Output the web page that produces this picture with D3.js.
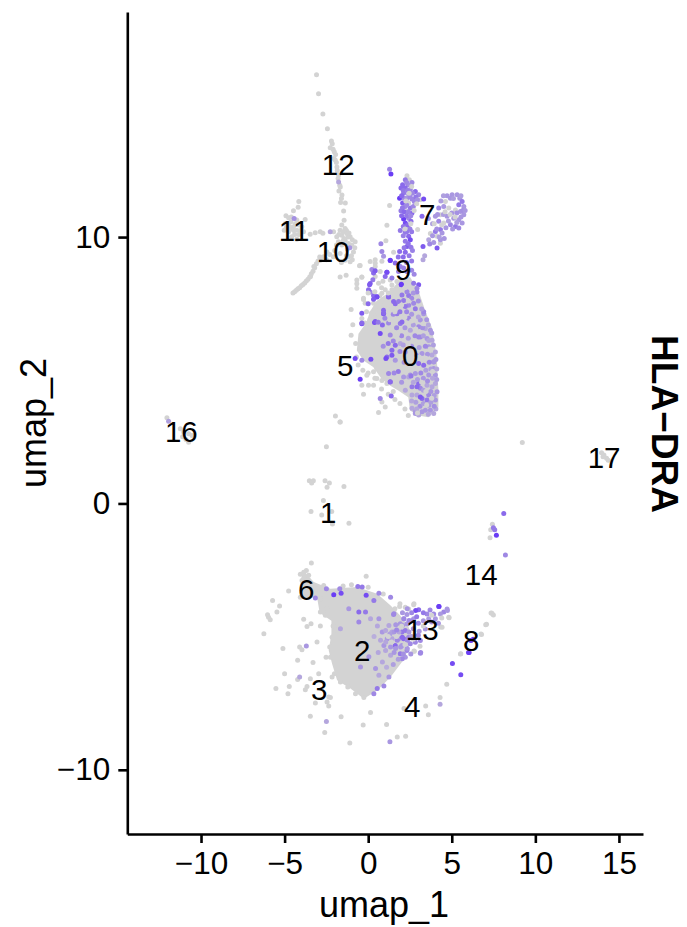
<!DOCTYPE html>
<html>
<head>
<meta charset="utf-8">
<script src="https://cdn.jsdelivr.net/npm/d3@7"></script>
<style>
  body { margin: 0; background: #fff; }
  text { font-family: "Liberation Sans", Arial, sans-serif; fill: #000; }
</style>
</head>
<body>
<svg id="chart"></svg>
<script>
const width = 687;
const height = 927;

const xTicks = [-10, -5, 0, 5, 10, 15];
const yTicks = [-10, 0, 10];
const featureName = "HLA\u2212DRA";

const clusterIds = ["0","1","2","3","4","5","6","7","8","9","10","11","12","13","14","16","17"];
const clusterX = [2.51,-2.39,-0.36,-2.93,2.63,-1.38,-3.71,3.53,6.16,2.09,-2.09,-4.43,-1.79,3.23,6.76,-11.18,14.11];
const clusterY = [5.56,-0.34,-5.53,-6.99,-7.63,5.19,-3.23,10.86,-5.15,8.8,9.47,10.26,12.74,-4.74,-2.67,2.71,1.73];

// the two overplotted masses, too dense to read single cells: outline only
const coreTop = [[1.9,8.4],[2.5,8.5],[3.0,8.0],[3.4,7.25],[3.8,6.62],[4.1,5.5],[4.2,4.24],[4.2,3.61],[3.6,3.24],[3.0,3.3],[2.5,3.49],[2.4,3.99],[1.8,4.24],[1.3,4.43],[0.8,4.68],[0.3,5.12],[-0.28,5.37],[-0.68,5.74],[-0.58,6.37],[-0.1,6.8],[0.1,7.2],[0.5,7.6],[1.3,7.95]];
const coreBottom = [[-3.86,-2.52],[-3.26,-2.95],[-2.26,-3.2],[-0.66,-3.14],[0.54,-3.39],[1.34,-3.83],[1.9,-4.2],[2.4,-4.6],[2.6,-5.0],[2.2,-5.8],[1.94,-6.02],[1.34,-6.52],[0.54,-7.02],[-0.26,-7.33],[-1.06,-6.95],[-1.86,-6.64],[-2.16,-6.02],[-2.36,-5.52],[-2.2,-4.89],[-2.2,-4.4],[-2.9,-4.1],[-3.06,-3.52],[-3.96,-3.58],[-4.06,-2.89]];

// cells with no expression
const greyStrand = [[-3.09,16.09],[-2.97,15.38],[-2.71,14.62],[-2.44,14.07],[-2.2,13.61],[-2.27,13.35],[-2.03,13.2],[-1.97,12.89],[-1.87,12.63],[-1.77,12.33],[-1.67,11.88],[-1.75,11.73],[-1.57,11.58],[-1.65,11.3],[-1.37,11.28],[-1.47,10.98],
  [-2.15,13.5],[-2.1,13.3],[-1.95,13.1],[-2.05,12.95],[-1.9,12.8],[-1.85,12.5],[-1.8,12.2],[-1.7,11.95],[-1.6,11.45],
  [-4.5,7.9],[-4.4,7.95],[-4.3,8.0],[-4.2,8.06],[-4.1,8.1],[-4.0,8.17],[-3.9,8.22],[-3.8,8.28],[-3.7,8.35],[-3.6,8.42],[-3.5,8.5],[-3.4,8.62],[-3.3,8.72],[-3.2,8.85],[-3.1,9.0],[-3.0,9.1],[-2.9,9.25],[-3.25,8.9],[-3.45,8.52],
  [-4.15,11.34],[-4.19,11.12],[-4.47,10.99],[-4.92,10.8],[-4.76,10.73],[-4.62,10.58],[-4.96,10.51],[-4.27,10.64],[-3.77,10.66],[-5.02,10.26],[-4.76,10.2],[-4.47,10.39],[-4.27,10.26],[-3.97,10.39],[-4.57,10.01],[-4.27,9.92],[-3.87,10.2],[-3.47,10.11],[-3.17,10.16],[-2.87,10.2],[-2.71,10.14],[-2.07,10.2],[-4.6,10.3],[-4.4,10.1],
  [-4.8,10.5],[-4.6,10.75],[-4.35,10.5],[-4.15,10.45],[-4.7,10.4],[-4.9,10.35],[-4.15,10.1],[-4.45,10.25],[-4.05,10.25],
  [-1.44,10.63],[-1.58,10.45],[-1.38,10.32],[-1.68,10.26],[-1.28,10.13],[-1.58,10.07],[-1.08,10.01],[-1.88,10.01],[-1.38,9.88],[-0.78,9.82],[-0.98,9.7],[-1.58,9.7],[-1.78,9.82],[-1.18,9.76],[-0.88,9.44],[-1.18,9.26],[-1.08,9.07],[-1.38,9.13],[-1.68,9.38],[-2.08,9.26],[-2.67,9.26],[-2.47,9.44],[-2.87,9.13],[-0.52,8.92],[-1.32,8.57],[-1.68,8.5],[-1.2,10.0],[-1.45,9.95],[-1.25,9.55],[-1.0,9.3],
  [-1.5,10.2],[-1.3,10.25],[-1.15,10.15],[-0.95,9.9],[-1.75,10.1],[-1.5,9.85],[-1.9,9.7],[-2.3,9.35],[-2.0,9.5],[-0.8,9.6],[-0.95,9.15],[-1.6,9.05],[-1.3,9.3],[-2.5,9.15]];
const greyUpper = [[1.28,11.19],[2.42,11.28],[2.32,12.3],[2.46,12.15],[3.12,11.4],[2.32,10.96],[1.12,10.44],[2.42,10.34],[2.96,10.28],[1.06,9.86],[1.52,9.43],[0.42,9.15],[0.82,9.09],[-0.48,8.93],[0.42,8.9],[0.72,8.71],[-0.38,8.5],[-0.68,8.25],[0.88,8.34],
  [4.62,11.34],[4.82,11.09],[5.22,11.02],[4.32,10.84],[4.52,10.53],[3.72,10.13],[4.12,10.03],[4.32,9.77],
  [0.12,9.08],[0.42,9.02],[-0.38,8.49],[-0.68,8.39],[0.42,8.52],[1.32,8.39],[1.02,8.02],[0.62,8.27],[0.32,7.52],[0.82,7.89],[1.42,8.02],[-0.68,8.08],[-0.18,7.52],[-0.28,7.7],[0.92,7.45],[-0.18,6.77],[0.62,7.39],[1.72,8.33],[1.42,8.2],
  [-1.02,7.28],[-0.92,6.71],[-1.02,6.31],[-0.28,7.66],[-0.38,6.94],[-1.68,3.06],[-0.32,5.0],[-0.08,4.81],[0.32,4.44],[0.02,4.44],[-0.38,4.44],[-0.28,4.1],[0.82,3.81],[1.02,3.62],[0.62,3.41],[0.52,4.69],[0.82,4.62],[1.12,4.5],[0.32,4.94],[0.52,5.06],
  [-0.6,5.2],[-0.7,5.5],[-0.75,6.0],[0,4.9],[0.4,4.7],[0.8,4.3],[1.2,4.1],[1.6,3.9],[1.9,3.75],[2.2,3.55],[2.4,3.3],[0.9,7.6],[0.7,7.8],[-0.1,6.6],[1.5,4.2]];
const greyMiddle = [[-12.04,3.22],[-11.24,2.8],[-11.04,2.68],[-10.74,2.62],[-10.74,2.3],[-10.54,2.55],[-11.1,2.5],[-10.9,2.4],
  [-1.96,3.28],[-1.68,3.06],[-2.5,2.13],[-3.52,0.85],[-3.28,0.85],[-3.38,0.77],[-2.58,0.85],[-2.32,0.77],[-2.46,0.61],[-1.45,0.64],[-2.68,0.11],[-3.42,-0.3],[-2.78,-0.43],[-2.18,-0.3],[-2.14,-0.77],[-1.15,-0.74],
  [9.22,2.29],[13.96,1.9],[14.1,1.82],[14.26,1.7],[14.36,1.62],[14.05,1.75],[7.43,-0.78],[7.33,-0.99],[7.29,-1.29]];
const greyLower = [[-3.4,-2.24],[-0.12,-2.73],[-4.06,-2.66],[-3.7,-2.52],[-4.76,-3.29],[-5.72,-3.64],[-5.3,-3.85],[-5.46,-4.08],[-6.02,-4.18],[-5.86,-4.37],[-5.96,-4.27],[-6.24,-4.89],[-3.86,-4.35],[-2.86,-4.6],[-3.42,-4.52],[-3.66,-4.62],[-3.06,-5.2],[-5.1,-5.45],[-4.1,-5.39],[-3.96,-5.49],[-4.22,-5.89],[-3.3,-5.97],[-2.52,-5.77],[-5,-6.39],[-4.22,-6.61],[-2.96,-6.39],[-3.46,-6.58],[-2.16,-6.52],[-5.52,-6.95],[-4.72,-6.87],[-4.8,-7.14],[-3.76,-6.99],[-3.66,-6.87],[-3.16,-7.49],[-2.36,-7.27],[-2.26,-7.29],[-2.46,-7.45],[-2.36,-7.6],[-3.46,-7.99],[-1.62,-8.01],[-2.6,-8.6],[0.14,-7.85],[-0.3,-8.32],[1.1,-8.3],[-1.1,-8.99],[1.74,-8.77],[2.24,-8.74],[2.14,-7.7],[3.44,-7.6],[3.6,-7.93],[4.3,-7.29],[4.7,-6.79],[5.54,-5.64],[6.78,-4.92],[7.08,-4.54],[7.4,-4.12],[7.35,-4.11],[7.49,-4.19],[7.03,-4.55],[6.75,-4.9],[5.52,-5.65],[4.34,-4.64],[4.84,-4.29],[3.1,-5.36],[2.74,-5.54],[2.74,-3.77],[1.9,-3.77],[4.82,-4.27],[4.42,-4.65],[2.42,-3.96],[2.22,-3.9],[2.72,-3.8],[1.88,-3.87],[1.62,-4.71],[1.52,-5.15],[2.76,-5.55],
  [-3.86,-2.58],[-3.56,-2.7],[-3.96,-2.89],[-3.46,-3.01],[-3.16,-3.2],[-2.66,-3.08],[-4.06,-3.52],[-3.06,-3.39],[-2.86,-3.58],
  [-2.16,-5.02],[-2.3,-5.39],[-2.26,-5.77],[-2.02,-6.39],[-1.66,-6.7],[-1.22,-6.89],[-0.76,-7.14],[-0.26,-7.29],[0.24,-7.08],[-2.86,-4.08],[-2.56,-4.2],[-2.46,-3.95],
  [-2.1,-4.6],[-2.0,-4.75],[-1.5,-3.1],[-1.0,-3.05],[0.0,-3.15],[0.9,-3.4],[1.6,-3.95]];

// cells expressing the gene: x, y, expression level (0 to 1)
const exprUpper = [[-1.77,12.07,0.3],[-4.43,10.7,0.45],[-2.27,10.2,0.3],[-1.1,9.6,0.4],[1.28,12.55,0.5],[1.36,12.37,1],
  [2.22,12.15,0.6],[2.06,11.96,0.7],[2.62,12.05,0.5],[2.38,11.96,0.5],[2.22,11.84,0.7],[1.96,11.84,0.7],[2.52,11.78,0.5],[2.82,11.71,0.7],[2.12,11.65,0.6],[2.42,11.59,0.4],[3.02,11.59,0.5],[1.88,11.46,1],[2.16,11.46,0.5],[2.62,11.43,0.5],[3.32,11.43,0.9],[2.06,11.28,0.8],[2.76,11.34,0.5],[2.22,11.15,0.5],[2.52,11.09,0.6],[1.96,10.99,0.6],[2.62,10.9,0.7],[2.12,10.68,1],[2.42,10.71,0.5],[2.22,10.53,0.9],[2.56,10.59,0.7],[1.92,10.25,0.6],[2.22,10.18,0.6],[2.42,10.03,0.7],[2.22,9.84,0.6],[2.52,9.9,0.9],[0.76,9.75,0.5],[2.32,9.65,0.8],[2.56,9.62,0.6],[0.82,9.46,0.5],[1.88,9.46,0.7],[2.22,9.43,0.7],[0.92,9.28,0.4],[1.32,9.13,1],[1.62,9.03,0.7],[1.92,8.9,0.55],[2.12,8.84,0.55],[1.82,8.71,0.6],[2.32,8.71,0.55],[0.22,8.78,0.5],[1.12,8.68,0.9],[0.32,8.65,0.7],[1.02,8.52,0.7],[0.28,8.4,0.6],[1.42,8.46,0.6],[0.08,8.21,0.8],[1.98,8.21,1],[3.02,8.21,0.8],
  [2.3,12.05,0.5],[2.5,11.95,0.45],[2.1,11.75,0.6],[2.35,11.75,0.55],[2.65,11.65,0.5],[2.0,11.55,0.7],[2.3,11.45,0.4],[2.5,11.5,0.5],[2.85,11.5,0.6],[2.95,11.4,0.45],[2.3,11.2,0.5],[2.05,11.1,0.6],[2.15,10.95,0.7],[2.4,10.95,0.55],[2.7,11.15,0.5],[2.0,10.8,0.7],[2.3,10.8,0.6],[2.55,10.8,0.5],[2.35,10.45,0.7],[2.1,10.4,0.6],[2.5,10.3,0.55],[2.3,10.2,0.6],[2.6,10.2,0.6],[2.1,10.05,0.55],[2.4,9.75,0.65],[2.15,9.6,0.6],[2.65,9.5,0.55],[2.45,9.3,0.6],[2.1,9.25,0.7],[2.6,9.1,0.6],[1.8,9.25,0.65],[2.3,9.05,0.6],[2.6,8.75,0.5],[2.75,8.6,0.5],
  [3.22,10.78,0.7],[4.22,11.09,0.5],[4.72,11.55,0.4],[5.02,11.59,0.4],[5.32,11.59,0.4],[4.92,11.46,0.4],[5.48,11.46,0.4],[5.62,11.34,0.6],[5.42,11.21,0.6],[5.72,11.15,0.4],[4.52,11.15,0.4],[5.52,10.96,0.4],[5.72,10.84,0.4],[4.02,10.78,0.4],[4.72,10.78,0.4],[5.12,10.71,0.4],[5.42,10.65,0.4],[5.62,10.53,0.4],[4.22,10.59,0.5],[4.92,10.46,0.5],[5.22,10.4,0.6],[5.42,10.34,0.5],[4.32,10.28,0.6],[4.02,10.21,0.6],[4.42,10.15,0.4],[3.62,9.9,0.3],[4.32,9.9,0.4],[3.92,9.8,0.4],[3.68,9.74,0.5],[3.28,9.65,0.8],[4.12,9.59,0.8],[3.38,9.3,0.3],[3.28,9.15,0.3],
  [3.6,10.7,0.4],[3.85,10.5,0.35],[4.15,10.85,0.4],[4.5,10.85,0.35],[4.35,11.35,0.35],[4.65,10.35,0.4],[3.85,10.05,0.4],[4.1,10.3,0.45],[4.25,10.0,0.35],[4.55,9.95,0.4],[5.0,10.9,0.4],[5.3,10.9,0.45],[4.8,10.6,0.35],[5.05,10.3,0.4],[5.3,10.55,0.35],[5.55,10.75,0.4],[5.65,11.0,0.45],[5.1,11.45,0.35],[5.55,11.55,0.35],[4.5,11.55,0.35],[5.8,11.0,0.4]];
const exprTop = [[1.32,6.32,0.5],[1.92,6.76,0.6],[3.12,6.25,0.5],[3.52,6.19,0.4],[3.62,5.88,0.4],[3.42,5.9,0.5],[3.92,5.32,0.4],[3.82,5.57,0.3],[1.12,5.5,0.7],[1.42,5.75,0.7],[1.62,5.38,0.4],[3.02,5.25,0.7],[3.32,5.19,0.7],[3.22,5.63,0.4],[2.52,4.82,0.4],[2.82,4.88,0.4],[3.02,4.5,0.7],[2.62,4.38,0.6],[2.22,4.25,0.3],[3.62,4.82,0.4],[4.02,4.82,0.4],[3.92,5.07,0.4],[3.12,4.32,0.5],[3.22,3.94,0.7],[3.62,4.07,0.5],[3.52,3.88,0.6],[4.02,4.5,0.3],[4.12,4.19,0.4],[4.02,3.88,0.4],[2.62,3.57,0.3],[2.82,3.38,0.4],[3.42,3.5,0.4],[3.72,3.5,0.4],[3.92,3.38,0.3],[3.02,3.32,0.3],[1.38,4.03,0.7],[1.32,4.57,0.7],[1.22,4.88,0.5],[2.62,4.07,0.3],[2.92,4.07,0.3],[3.82,4.38,0.3],[3.52,4.44,0.3],[2.42,4.75,0.3],[2.22,5.69,0.4],[1.92,6.0,0.3],[2.52,6.5,0.3],[3.02,6.63,0.5],[3.42,6.57,0.3],[3.82,6.13,0.3],[4.02,5.69,0.3],
  [0.52,7.75,1],[0.92,7.12,0.9],[0.32,7.81,0.7],[0.12,7.94,0.5],[0,7.5,0.7],[1.22,7.75,0.8],[1.62,7.5,0.7],[2.12,7.62,0.6],[2.42,7.81,0.6],[2.92,7.94,0.5],[2.02,6.81,0.7],[2.82,7.31,0.6],[2.42,7.44,0.5],[3.32,7.12,0.4],[-0.38,6.75,0.9],[0.38,6.79,0.9],[0.72,6.38,0.9],[0.92,7.25,0.7],[-0.78,5.44,0.9],[0.16,5.41,0.9],[1.06,5.44,0.9],[-0.48,4.66,1],[0.72,3.94,0.5],[-0.38,5.38,0.5],[1.62,5.94,0.7],[1.42,5.56,0.8],[1.32,4.56,0.7],[3.02,6.25,0.5],[3.72,6.5,0.4],[3.62,6.12,0.3],[2.56,4.78,0.6],[2.12,4.75,0.4],[2.92,4.38,0.7],[3.12,4.0,0.8],[3.92,5.31,0.4],[2.82,3.44,0.4],[3.22,3.44,0.4],[3.62,3.69,0.4],
  [1.32,9.12,1],[0.42,8.74,0.8],[1.12,8.68,0.9],[0.12,8.26,0.8],[0.02,8.02,0.7],[0.52,7.76,0.9],[0.32,7.67,0.8],[-0.38,7.14,0.8],[-0.38,6.77,0.7],[0.42,6.83,0.8],[1.22,7.77,0.7],[1.52,7.58,0.7],[1.82,7.58,0.6],[2.02,7.83,0.6],[1.98,8.23,1],[2.72,8.27,0.6],[2.92,8.08,0.5],[2.32,7.95,0.5],[2.72,7.52,0.5],[2.22,7.39,0.6],[3.32,7.2,0.5],[1.72,7.12,0.6],[0.92,7.14,0.7],[1.22,6.77,0.5],[2.42,6.95,0.5],[3.12,6.89,0.4],
  [2.7,7.9,0.4],[3.0,7.6,0.45],[3.2,7.3,0.35],[2.6,7.1,0.4],[3.0,7.0,0.3],[3.5,6.9,0.4],[2.2,6.6,0.4],[2.7,6.7,0.35],[3.25,6.6,0.45],[3.6,6.7,0.3],[2.0,6.3,0.5],[2.4,6.2,0.35],[2.8,6.3,0.5],[3.3,6.3,0.35],[3.8,6.4,0.4],[2.1,5.95,0.35],[2.6,5.9,0.45],[3.05,5.85,0.35],[3.9,5.95,0.35],[3.55,5.6,0.4],[2.9,5.55,0.4],[4.05,5.4,0.4],[3.65,5.3,0.5],[3.45,5.0,0.35],[3.75,5.05,0.35],[3.15,4.9,0.5],[4.1,5.05,0.3],[3.3,4.7,0.4],[3.85,4.7,0.3],[2.95,4.65,0.35],[3.55,4.6,0.45],[4.1,4.65,0.35],[2.7,4.55,0.3],[3.3,4.25,0.35],[3.75,4.2,0.4],[3.95,4.05,0.35],[2.85,3.8,0.35],[3.1,3.65,0.45],[3.75,3.8,0.35],[4.05,3.55,0.3],[3.3,3.75,0.35],[2.6,3.85,0.3],[3.6,3.35,0.3],[2.9,3.55,0.3],[3.95,3.65,0.45],[1.7,6.6,0.5],[1.5,6.1,0.5],[1.2,6.0,0.6],[0.9,5.9,0.45],[1.9,5.7,0.5],[2.15,5.3,0.45],[1.8,4.95,0.6],[1.55,4.9,0.5],[2.0,4.55,0.4],[0.85,6.7,0.7],[0.6,6.8,0.6],[1.0,6.95,0.5],[1.5,7.1,0.5],[1.9,7.2,0.6],[2.3,7.2,0.5],[2.6,7.7,0.5]];
const exprLower = [[-11.94,3.09,0.35],[8.11,-0.38,0.7],[7.49,-0.91,0.6],[7.57,-0.99,0.6],[7.67,-1.19,1],[8.21,-1.94,0.5],[6.15,-5.15,1],[6.28,-5.1,1],[6.0,-5.6,0.9],[5.04,-6.01,0.9],[5.54,-6.43,0.9],
  [4.22,-3.87,0.8],[4.72,-3.96,0.4],[4.52,-4.08,0.5],[4.32,-4.15,0.4],[3.92,-4.15,0.5],[3.52,-4.15,0.5],[3.02,-3.99,0.7],[2.32,-4.17,0.4],[1.52,-4.17,0.5],[2.72,-4.33,0.4],[2.12,-4.33,0.3],[3.62,-4.33,0.4],[4.02,-4.33,0.4],[1.92,-4.52,0.4],[2.32,-4.52,0.4],[1.42,-4.83,0.3],[2.02,-4.83,0.6],[2.22,-4.77,0.6],[3.42,-4.71,0.4],[2.42,-5.02,0.5],[2.12,-5.08,0.7],[1.82,-5.08,0.4],[1.62,-5.33,0.7],[2.02,-5.33,0.4],[2.52,-5.27,0.5],[2.82,-5.21,0.5],[3.12,-5.15,0.5],[1.92,-5.64,0.6],[2.32,-5.52,0.5],[2.22,-5.77,0.4],[3.12,-5.62,0.5],
  [0.84,-4.83,0.4],[1.14,-5.08,0.4],[0.94,-5.33,0.4],[1.34,-5.39,0.4],[1.74,-5.14,0.5],[2.04,-5.02,0.7],[2.34,-5.14,0.5],[1.54,-4.83,0.4],[2.04,-4.58,0.5],[2.44,-4.39,0.5],[2.84,-4.02,0.9],[2.34,-3.95,0.4],[1.24,-4.58,0.3],[0.64,-4.33,0.4],[0.14,-4.33,0.3],[-0.16,-4.08,0.6],[-0.56,-4.08,0.7],[-0.56,-4.45,0.5],[0.34,-3.64,0.6],[-0.12,-3.45,0.9],[-0.62,-3.12,0.6],[-0.36,-3.14,0.6],[1.34,-3.52,0.5],[0.64,-3.37,0.5],[-1.7,-3.2,0.5],[-1.62,-3.37,0.9],[-2.06,-3.43,1],[-2.5,-3.2,0.5],[-3.16,-3.55,0.5],[-1.16,-3.95,0.4],[0.54,-6.95,0.6],[0.94,-6.85,0.5],[0.34,-7.14,0.5],[0.44,-6.2,0.4],[0.64,-6.45,0.3],[1.24,-6.52,0.4],[-0.46,-6.14,0.4],[0.04,-5.76,0.4],[-1.66,-4.7,0.3],[3.14,-5.6,0.5],[2.04,-5.83,0.5],[1.54,-4.14,0.5],
  [1.04,-4.77,0.3],[1.44,-5.08,0.3],[1.84,-4.83,0.3],[2.14,-4.33,0.5],[1.04,-5.52,0.3],[0.74,-5.14,0.3],[2.44,-4.83,0.4],[1.64,-5.45,0.4],[1.94,-5.39,0.4],[1.34,-5.7,0.3],[2.34,-5.45,0.4],
  [-3.7,-5.35,0.4],[-4.1,-6.52,0.3],[-2.5,-8.19,0.3],[1.3,-8.95,0.4],[4.3,-7.54,0.3],[6.04,-5.6,1],[4.24,-3.87,1],[4.74,-4.02,0.4],
  [2.6,-4.4,0.5],[3.0,-4.5,0.5],[3.3,-4.4,0.4],[3.8,-4.45,0.45],[4.2,-4.5,0.4],[2.7,-4.7,0.45],[3.05,-4.8,0.4],[2.6,-5.0,0.35],[3.0,-4.95,0.5],[1.65,-4.55,0.4],[1.3,-4.9,0.35],[1.7,-4.75,0.5],[1.05,-5.2,0.3],[1.55,-5.6,0.4],[1.8,-5.85,0.35],[2.1,-5.65,0.45],[2.55,-5.65,0.4],[0.55,-4.6,0.3],[0.35,-5.0,0.25],[0.6,-5.6,0.3],[0.85,-5.95,0.3],[1.1,-6.15,0.25],[1.5,-6.05,0.35],[2.9,-4.25,0.6],[3.3,-4.1,0.6],[3.7,-4.0,0.5],[2.6,-4.1,0.5],[2.05,-4.1,0.4]];

// grey cells that sit over the coloured ones in the plotting order
const greyOver = [[2.4,7.6],[2.0,7.45],[1.6,7.2],[1.2,7.3],[1.3,6.9],[0.6,7.1],[0.2,7.15],[-0.1,7.2],[0.1,6.9],[2.2,7.0],[2.6,6.85],[2.85,6.55],[3.3,6.75],[3.1,6.05],[2.4,5.95],[1.75,6.35],[3.45,5.45],[3.7,5.8],[2.7,5.1],[3.2,4.55],[3.45,4.2],[3.8,3.95],[2.95,3.4],[3.5,3.7],[3.85,4.95],[3.05,5.5],[1.2,7.9],[1.6,8.0],[2.2,8.1],[0.8,8.1],[0.4,7.95],[0.0,7.9],
  [2.0,-4.6],[1.4,-5.2],[2.7,-5.1],[1.2,-5.0],[3.3,-4.6],[3.8,-4.2],[4.4,-4.3],[2.2,-5.3],[1.7,-5.0],
  [2.6,11.9],[2.45,11.65],[2.25,11.35],[2.9,11.25],[2.75,11.0],[2.55,10.5],[2.2,10.3],[4.6,10.95],[4.9,10.85],[5.2,10.75],[4.4,10.45],[3.95,10.5]];

const svg = d3.select("#chart").attr("width", width).attr("height", height);

const x = d3.scaleLinear().domain([-14.41, 16.44]).range([127.3, 643]);
const y = d3.scaleLinear().domain([-12.41, 18.45]).range([834, 12]);
const exprColor = d3.scaleLinear().domain([0, 1]).range(["#d3d3d3", "#6a3df5"]);
const dotR = 2.5;

const outline = d3.line().x(d => x(d[0])).y(d => y(d[1])).curve(d3.curveLinearClosed);
svg.selectAll(".core").data([coreTop, coreBottom]).enter().append("path")
  .attr("class", "core").attr("d", outline).attr("fill", "#d3d3d3");

const greyPoints = [...greyStrand, ...greyUpper, ...greyMiddle, ...greyLower];
svg.selectAll(".cell").data(greyPoints).enter().append("circle")
  .attr("class", "cell")
  .attr("cx", d => x(d[0])).attr("cy", d => y(d[1])).attr("r", dotR).attr("fill", "#d3d3d3");

const exprPoints = [...exprUpper, ...exprTop, ...exprLower];
svg.selectAll(".expr").data(exprPoints).enter().append("circle")
  .attr("class", "expr")
  .attr("cx", d => x(d[0])).attr("cy", d => y(d[1])).attr("r", dotR).attr("fill", d => exprColor(d[2]));

svg.selectAll(".over").data(greyOver).enter().append("circle")
  .attr("class", "over")
  .attr("cx", d => x(d[0])).attr("cy", d => y(d[1])).attr("r", dotR).attr("fill", "#d3d3d3");

// axes
const xAxis = svg.append("g").attr("transform", `translate(0,${y.range()[0]})`)
  .call(d3.axisBottom(x).tickValues(xTicks).tickSizeInner(9).tickSizeOuter(0).tickPadding(9));
const yAxis = svg.append("g").attr("transform", `translate(${x.range()[0]},0)`)
  .call(d3.axisLeft(y).tickValues(yTicks).tickSizeInner(9).tickSizeOuter(0).tickPadding(8));
[xAxis, yAxis].forEach(a => {
  a.selectAll("path").attr("stroke", "#000").attr("stroke-width", 2.6);
  a.selectAll("line").attr("stroke", "#000").attr("stroke-width", 2.6);
  a.selectAll("text").style("font-size", "31.5px").style("font-family", '"Liberation Sans", Arial, sans-serif').attr("fill", "#000");
});

svg.append("text").attr("x", 384).attr("y", 917).attr("text-anchor", "middle").style("font-size", "36px").text("umap_1");
svg.append("text").attr("transform", "translate(46,423) rotate(-90)").attr("text-anchor", "middle").style("font-size", "36px").text("umap_2");
svg.append("text").attr("transform", "translate(652,424) rotate(90)").attr("text-anchor", "middle").style("font-size", "37px").style("font-weight", "bold").text(featureName);

svg.selectAll(".cluster").data(clusterIds).enter().append("text")
  .attr("class", "cluster")
  .attr("x", (d, i) => x(clusterX[i])).attr("y", (d, i) => y(clusterY[i]))
  .attr("text-anchor", "middle").attr("dy", "0.36em")
  .style("font-size", "29.5px").text(d => d);
</script>
</body>
</html>
